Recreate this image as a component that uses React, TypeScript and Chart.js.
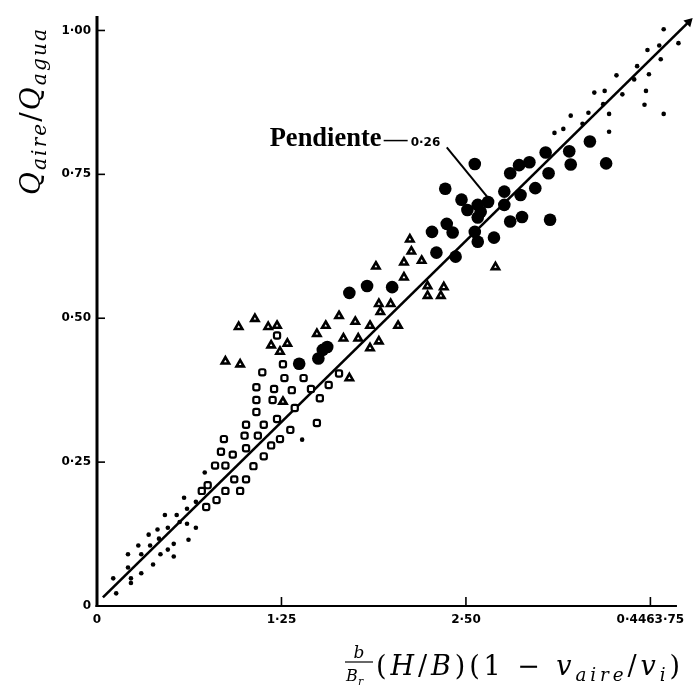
import React, { useEffect, useRef } from 'react';
import { Chart, registerables } from 'chart.js';

Chart.register(...registerables);

// ---- tick values / labels ----
const xTickValues = [0, 1.25, 2.5, 3.75];
const xTickLabels = ['0', '1·25', '2·50', '0·4463·75'];
const yTickValues = [0, 0.25, 0.5, 0.75, 1.0];
const yTickLabels = ['0', '0·25', '0·50', '0·75', '1·00'];

// ---- series (x, y) ----
const smallDots: [number, number][] = [
  [0.11, 0.048], [0.13, 0.022], [0.21, 0.09], [0.21, 0.067], [0.23, 0.048], [0.23, 0.04],
  [0.28, 0.105], [0.3, 0.09], [0.3, 0.057], [0.35, 0.124], [0.36, 0.105], [0.38, 0.072],
  [0.41, 0.133], [0.42, 0.117], [0.43, 0.09], [0.46, 0.158], [0.48, 0.136], [0.48, 0.098],
  [0.52, 0.108], [0.52, 0.086], [0.54, 0.158], [0.56, 0.146], [0.59, 0.188], [0.61, 0.169],
  [0.61, 0.143], [0.62, 0.115], [0.67, 0.181], [0.67, 0.136], [0.73, 0.232], [1.39, 0.289],
  [3.84, 1.002], [3.94, 0.978], [3.81, 0.974], [3.73, 0.966], [3.82, 0.95], [3.66, 0.938],
  [3.74, 0.924], [3.52, 0.922], [3.64, 0.915], [3.72, 0.895], [3.56, 0.889], [3.37, 0.892],
  [3.44, 0.895], [3.71, 0.871], [3.43, 0.872], [3.84, 0.855], [3.47, 0.855], [3.33, 0.857],
  [3.21, 0.852], [3.29, 0.838], [3.16, 0.829], [3.1, 0.822], [3.47, 0.824],
];

const openCircles: [number, number][] = [
  [0.71, 0.2], [0.75, 0.21], [0.74, 0.172], [0.81, 0.184], [0.8, 0.244], [0.87, 0.244],
  [0.87, 0.2], [0.84, 0.268], [0.86, 0.29], [0.92, 0.263], [0.93, 0.22], [0.97, 0.2],
  [1.0, 0.296], [1.01, 0.22], [1.01, 0.274], [1.06, 0.243], [1.09, 0.296], [1.13, 0.26],
  [1.18, 0.279], [1.24, 0.29], [1.31, 0.306], [1.01, 0.315], [1.13, 0.315], [1.22, 0.47],
  [1.26, 0.42], [1.12, 0.406], [1.27, 0.396], [1.08, 0.38], [1.2, 0.377], [1.32, 0.375],
  [1.08, 0.358], [1.19, 0.358], [1.08, 0.337], [1.22, 0.325], [1.34, 0.344], [1.4, 0.396],
  [1.45, 0.377], [1.51, 0.361], [1.49, 0.318], [1.57, 0.384], [1.64, 0.404],
];

const triangles: [number, number][] = [
  [0.96, 0.485], [1.07, 0.499], [1.16, 0.485], [1.22, 0.487], [1.18, 0.453], [1.29, 0.456],
  [1.24, 0.442], [0.87, 0.425], [0.97, 0.42], [1.26, 0.355], [2.12, 0.637], [2.13, 0.616],
  [1.89, 0.59], [2.08, 0.597], [2.2, 0.6], [2.08, 0.571], [2.24, 0.556], [2.24, 0.539],
  [2.35, 0.554], [2.33, 0.539], [2.7, 0.589], [1.91, 0.525], [1.92, 0.511], [1.99, 0.525],
  [1.49, 0.473], [1.55, 0.487], [1.64, 0.504], [1.75, 0.494], [1.67, 0.465], [1.85, 0.487],
  [1.91, 0.46], [2.04, 0.487], [1.85, 0.448], [1.77, 0.465], [1.71, 0.396],
];

const bigCircles: [number, number][] = [
  [2.56, 0.768], [2.36, 0.725], [2.47, 0.706], [2.51, 0.688], [2.58, 0.697], [2.6, 0.685],
  [2.58, 0.675], [2.65, 0.702], [2.37, 0.664], [2.41, 0.649], [2.27, 0.65], [2.3, 0.614],
  [2.43, 0.607], [2.56, 0.65], [2.58, 0.633], [2.69, 0.64], [2.76, 0.72], [2.76, 0.697],
  [2.8, 0.668], [2.87, 0.714], [2.88, 0.676], [2.8, 0.752], [2.86, 0.766], [2.93, 0.771],
  [2.97, 0.726], [3.04, 0.788], [3.06, 0.752], [3.07, 0.671], [1.71, 0.544], [1.83, 0.556],
  [2.0, 0.554], [3.34, 0.807], [3.2, 0.79], [3.45, 0.769], [3.21, 0.767], [1.37, 0.421],
  [1.53, 0.445], [1.5, 0.43], [1.56, 0.45],
];

const fitLine: [number, number][] = [[0.04, 0.015], [4.01, 1.015]];

// ---- annotation ----
const slopeText = 'Pendiente';
const slopeValue = '0·26';
const slopeTextAnchor: [number, number] = [1.17, 0.8];
const leaderLine: [number, number][] = [[2.37, 0.797], [2.66, 0.706]];

const X_MAX = 4.04;
const Y_MAX = 1.03;
const X_AXIS_END = 3.93;
const Y_AXIS_TOP = 1.025;

type Seg = { t: string; italic?: boolean; sub?: boolean };

// draw mixed text (with subscripts) char by char, spread to a target width
function drawSpaced(
  ctx: CanvasRenderingContext2D, segs: Seg[], size: number, subScale: number,
  targetW: number, x: number, y: number, align: 'left' | 'center',
) {
  const fam = '"DejaVu Serif", "Liberation Serif", serif';
  const items: { ch: string; font: string; dy: number; w: number }[] = [];
  segs.forEach((s) => {
    const f = `${s.italic ? 'italic ' : ''}${s.sub ? size * subScale : size}px ${fam}`;
    for (const ch of Array.from(s.t)) {
      ctx.font = f;
      items.push({ ch, font: f, dy: s.sub ? size * 0.22 : 0, w: ctx.measureText(ch).width });
    }
  });
  const natural = items.reduce((a, b) => a + b.w, 0);
  const extra = items.length > 1 ? Math.max(0, (targetW - natural) / (items.length - 1)) : 0;
  const total = natural + extra * (items.length - 1);
  let cx = align === 'center' ? x - total / 2 : x;
  ctx.textAlign = 'left';
  ctx.textBaseline = 'alphabetic';
  items.forEach((it) => {
    ctx.font = it.font;
    ctx.fillText(it.ch, cx, y + it.dy);
    cx += it.w + extra;
  });
}

const toXY = (arr: [number, number][]) => arr.map(([x, y]) => ({ x, y }));

const decorPlugin = {
  id: 'decor',
  beforeDatasetsDraw(chart: any) {
    const { ctx } = chart;
    const xs = chart.scales.x;
    const ys = chart.scales.y;
    const x0 = xs.getPixelForValue(0);
    const y0 = ys.getPixelForValue(0);
    ctx.save();
    ctx.strokeStyle = '#000';
    ctx.lineWidth = 3;
    ctx.beginPath();
    ctx.moveTo(x0, y0 + 1);
    ctx.lineTo(x0, ys.getPixelForValue(Y_AXIS_TOP));
    ctx.stroke();
    ctx.lineWidth = 2;
    ctx.beginPath();
    ctx.moveTo(x0 - 1.5, y0);
    ctx.lineTo(xs.getPixelForValue(X_AXIS_END), y0);
    ctx.stroke();
    ctx.lineWidth = 1.6;
    yTickValues.forEach((v) => {
      if (v === 0) return;
      const py = ys.getPixelForValue(v);
      ctx.beginPath();
      ctx.moveTo(x0, py);
      ctx.lineTo(x0 + 8, py);
      ctx.stroke();
    });
    xTickValues.forEach((v) => {
      if (v === 0) return;
      const px = xs.getPixelForValue(v);
      ctx.beginPath();
      ctx.moveTo(px, y0);
      ctx.lineTo(px, y0 - 9);
      ctx.stroke();
    });
    ctx.restore();
  },
  afterDatasetsDraw(chart: any) {
    const { ctx } = chart;
    const xs = chart.scales.x;
    const ys = chart.scales.y;
    ctx.save();
    ctx.fillStyle = '#000';
    ctx.strokeStyle = '#000';

    // annotation text
    const ax = xs.getPixelForValue(slopeTextAnchor[0]);
    const ay = ys.getPixelForValue(slopeTextAnchor[1]);
    ctx.font = 'bold 20px "Liberation Serif", serif';
    const tw = ctx.measureText(slopeText).width;
    const fs = (20 * 112) / tw;
    ctx.font = `bold ${fs}px "Liberation Serif", serif`;
    ctx.textAlign = 'left';
    ctx.textBaseline = 'alphabetic';
    ctx.fillText(slopeText, ax, ay);
    const dashStart = ax + 114;
    ctx.lineWidth = 1.5;
    ctx.beginPath();
    ctx.moveTo(dashStart, ay - 5);
    ctx.lineTo(dashStart + 24, ay - 5);
    ctx.stroke();
    ctx.font = 'bold 12px "DejaVu Sans", sans-serif';
    ctx.fillText(slopeValue, dashStart + 27, ay);

    // leader line
    ctx.lineWidth = 2;
    ctx.beginPath();
    ctx.moveTo(xs.getPixelForValue(leaderLine[0][0]), ys.getPixelForValue(leaderLine[0][1]));
    ctx.lineTo(xs.getPixelForValue(leaderLine[1][0]), ys.getPixelForValue(leaderLine[1][1]));
    ctx.stroke();

    // y title (rotated)
    ctx.save();
    ctx.translate(40, 112);
    ctx.rotate(-Math.PI / 2);
    drawSpaced(ctx, [
      { t: 'Q', italic: true }, { t: 'aire', italic: true, sub: true }, { t: '/' },
      { t: 'Q', italic: true }, { t: 'agua', italic: true, sub: true },
    ], 28, 0.72, 166, 0, 0, 'center');
    ctx.restore();

    // x title
    ctx.font = 'italic 17px "DejaVu Serif", serif';
    ctx.textAlign = 'center';
    ctx.fillText('b', 359, 658);
    ctx.lineWidth = 1.2;
    ctx.beginPath();
    ctx.moveTo(345, 662);
    ctx.lineTo(373, 662);
    ctx.stroke();
    ctx.textAlign = 'left';
    ctx.font = 'italic 16px "DejaVu Serif", serif';
    ctx.fillText('B', 346, 681);
    ctx.font = 'italic 11px "DejaVu Serif", serif';
    ctx.fillText('r', 358, 685);
    drawSpaced(ctx, [
      { t: '(' }, { t: 'H', italic: true }, { t: '/' }, { t: 'B', italic: true }, { t: ')(1 − ' },
      { t: 'v', italic: true }, { t: 'aire', italic: true, sub: true }, { t: '/' },
      { t: 'v', italic: true }, { t: 'i', italic: true, sub: true }, { t: ')' },
    ], 27, 0.68, 304, 376, 675, 'left');
    ctx.restore();
  },
};

export default function App() {
  const ref = useRef<HTMLCanvasElement>(null);
  useEffect(() => {
    document.body.style.margin = '0';
    const canvas = ref.current!;
    const tickFont = { family: '"DejaVu Sans", sans-serif', size: 12, weight: 'bold' as const };
    const chart = new Chart(canvas, {
      type: 'scatter',
      data: {
        datasets: [
          {
            label: 'Pendiente 0·26',
            type: 'line' as any,
            data: toXY(fitLine),
            borderColor: '#000',
            borderWidth: 2.6,
            pointRadius: [0, 5.5],
            pointStyle: 'triangle',
            rotation: 45,
            pointBackgroundColor: '#000',
            pointBorderColor: '#000',
            pointBorderWidth: 0,
            showLine: true,
            fill: false,
            clip: false as any,
            order: 5,
          } as any,
          {
            label: 'puntos',
            data: toXY(smallDots),
            pointStyle: 'circle',
            pointRadius: 2.3,
            backgroundColor: '#000',
            borderColor: '#000',
            borderWidth: 0,
          },
          {
            label: 'círculos abiertos',
            data: toXY(openCircles),
            pointStyle: 'rectRounded',
            pointRadius: 3.6,
            backgroundColor: '#fff',
            borderColor: '#000',
            borderWidth: 2.2,
          },
          {
            label: 'triángulos',
            data: toXY(triangles),
            pointStyle: 'triangle',
            pointRadius: 4.2,
            backgroundColor: '#fff',
            borderColor: '#000',
            borderWidth: 2.6,
          },
          {
            label: 'círculos llenos',
            data: toXY(bigCircles),
            pointStyle: 'circle',
            pointRadius: 6.3,
            backgroundColor: '#000',
            borderColor: '#000',
            borderWidth: 0,
          },
        ],
      },
      options: {
        responsive: false,
        animation: false,
        devicePixelRatio: 1,
        layout: { padding: { top: 3, right: 1, left: 0, bottom: 0 } },
        plugins: { legend: { display: false }, tooltip: { enabled: false } },
        scales: {
          x: {
            type: 'linear',
            min: 0,
            max: X_MAX,
            grid: { display: false, drawTicks: false },
            border: { display: false },
            afterBuildTicks: (s: any) => { s.ticks = xTickValues.map((v) => ({ value: v })); },
            afterFit: (s: any) => { s.height = 80; },
            ticks: {
              autoSkip: false,
              maxRotation: 0,
              padding: 7,
              color: '#000',
              font: tickFont,
              callback: (v: any) => xTickLabels[xTickValues.indexOf(Number(v))] ?? '',
            },
          },
          y: {
            type: 'linear',
            min: 0,
            max: Y_MAX,
            grid: { display: false, drawTicks: false },
            border: { display: false },
            afterBuildTicks: (s: any) => { s.ticks = yTickValues.map((v) => ({ value: v })); },
            afterFit: (s: any) => { s.width = 97; },
            ticks: {
              autoSkip: false,
              padding: 6,
              color: '#000',
              font: tickFont,
              callback: (v: any) => yTickLabels[yTickValues.indexOf(Number(v))] ?? '',
            },
          },
        },
      },
      plugins: [decorPlugin as any],
    });
    return () => chart.destroy();
  }, []);
  return <canvas ref={ref} width={700} height={686} style={{ display: 'block' }} />;
}
